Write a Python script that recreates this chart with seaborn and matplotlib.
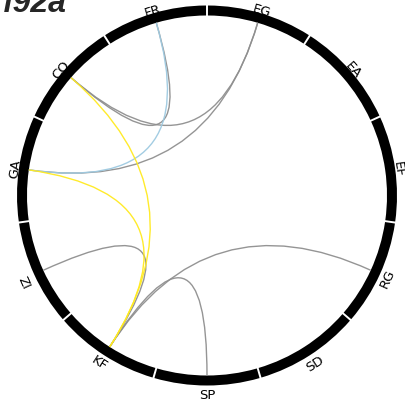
import numpy as np
import matplotlib
matplotlib.use("Agg")
import matplotlib.pyplot as plt
from matplotlib.patches import Wedge, PathPatch
from matplotlib.path import Path
import seaborn as sns

# nodes, clockwise from the top
nodes = ["EG", "EA", "EF", "RG", "SD", "SP", "KF", "IZ", "GA", "CO", "FR"]

# chords: source, target, group
chord_src = ["FR", "CO", "GA", "FR", "IZ", "RG", "SP", "CO", "GA"]
chord_dst = ["CO", "EG", "EG", "GA", "KF", "KF", "KF", "KF", "KF"]
chord_grp = ["other", "other", "other", "blue", "other", "other", "other", "yellow", "yellow"]

title_text = "f92a"


def plot_chord():
    sns.set_theme(style="white")
    plt.rcParams["font.family"] = ["DejaVu Sans"]
    cores = {"other": "#8f8f8f", "blue": "#9ecae1", "yellow": "#ffea20"}

    fig = plt.figure(figsize=(4.05, 4.14), dpi=100)
    ax = fig.add_axes([0, 0, 1, 1])
    # 1 unit = 1 pixel, ring centred at (207, 196.5) from top-left
    ax.set_xlim(-207, 405 - 207)
    ax.set_ylim(-(414 - 196.5), 196.5)
    ax.set_aspect("equal")
    ax.axis("off")

    n = len(nodes)
    step = 360.0 / n
    r_in, r_out = 180, 190
    mids = {}
    for i, nome in enumerate(nodes):
        t_start = 90 - i * step
        t_end = t_start - step
        mid = t_start - step / 2
        mids[nome] = mid
        ax.add_patch(Wedge((0, 0), r_out, t_end + 0.3, t_start - 0.3,
                           width=r_out - r_in, facecolor="black", edgecolor="none"))

        deg = mid % 360
        rot = mid - 90
        if 225 < deg < 360:
            rot += 180
        r_lab = 193.5 if np.sin(np.radians(mid)) > 0 else 199
        ax.text(r_lab * np.cos(np.radians(mid)), r_lab * np.sin(np.radians(mid)), nome,
                rotation=rot, ha="center", va="center", fontsize=9.5,
                rotation_mode="anchor", color="black")

    # gray chords first, coloured ones on top
    ordem = sorted(range(len(chord_src)), key=lambda k: chord_grp[k] != "other")
    for k in ordem:
        a1 = np.radians(mids[chord_src[k]])
        a2 = np.radians(mids[chord_dst[k]])
        p0 = (r_in * np.cos(a1), r_in * np.sin(a1))
        p2 = (r_in * np.cos(a2), r_in * np.sin(a2))
        path = Path([p0, (0, 0), p2], [Path.MOVETO, Path.CURVE3, Path.CURVE3])
        ax.add_patch(PathPatch(path, facecolor="none", edgecolor=cores[chord_grp[k]],
                               lw=1.0, alpha=0.95))

    fig.text(67 / 405, 1 - 12 / 414, title_text, ha="right", va="baseline",
             fontsize=23, fontweight="bold", fontstyle="italic",
             family=["Liberation Sans", "DejaVu Sans"])

    fig.savefig("out.png", dpi=100)


if __name__ == "__main__":
    plot_chord()
